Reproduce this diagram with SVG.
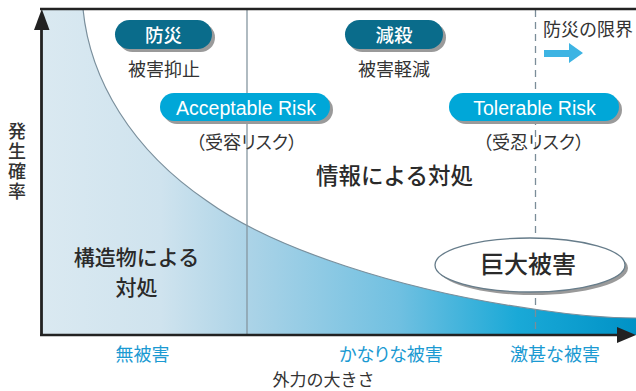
<svg xmlns="http://www.w3.org/2000/svg" width="636" height="391" viewBox="0 0 636 391">
<style>
.jp{font-family:"Noto Sans CJK JP","Noto Sans",sans-serif;}
.dark{fill:#333333;}
.blue{fill:#1b9ad2;}
.pilltxt{fill:#ffffff;font-weight:500;}
.palt{font-feature-settings:"palt";}
.en{font-family:"Liberation Sans",Arial,sans-serif;fill:#ffffff;font-size:19.5px;}
.shadow{fill:#9a9a9a;}
.darkpill{fill:#0a6c8b;}
.lightpill{fill:#00a7d8;}
</style>
<defs>
<linearGradient id="g" x1="42" y1="0" x2="636" y2="0" gradientUnits="userSpaceOnUse">
<stop offset="0" stop-color="#dae9f1"/>
<stop offset="0.2" stop-color="#cfe3ee"/>
<stop offset="0.35" stop-color="#abd3e7"/>
<stop offset="0.6" stop-color="#70c0e1"/>
<stop offset="0.8" stop-color="#1aa9d7"/>
<stop offset="1" stop-color="#0092c6"/>
</linearGradient>
</defs>
<g id="area">
<path d="M42,9 L83,9 C90,80 132,150 207,201 C272,248 400,291 540,310 C580,316 610,318 636,318 L636,335 L42,335 Z" fill="url(#g)"/>
<path d="M83,9 C90,80 132,150 207,201 C272,248 400,291 540,310 C580,316 610,318 636,318" fill="none" stroke="#7a8f9c" stroke-width="1.2"/>
</g>
<g id="connectors">
<line x1="247" y1="10" x2="247" y2="334" stroke="#8596a0" stroke-width="1.3"/>
<line x1="535.5" y1="10" x2="535.5" y2="334" stroke="#7b8d99" stroke-width="1.3" stroke-dasharray="7 5"/>
<polygon points="544,50 569,50 569,43 583,53 569,63 569,57 544,57" fill="#3db4e3"/>
</g>
<g id="bousai">
<rect x="118" y="23" width="97" height="29" rx="14.5" class="shadow"/>
<rect x="115" y="20" width="97" height="29" rx="14.5" class="darkpill"/>
<text x="163.5" y="41.5" font-size="18.5" text-anchor="middle" class="jp pilltxt">防災</text>
<text x="164" y="75.5" font-size="18" text-anchor="middle" class="jp dark">被害抑止</text>
</g>
<g id="gensai">
<rect x="348" y="23" width="98" height="29" rx="14.5" class="shadow"/>
<rect x="345" y="20" width="98" height="29" rx="14.5" class="darkpill"/>
<text x="394" y="41.5" font-size="18.5" text-anchor="middle" class="jp pilltxt">減殺</text>
<text x="394" y="75.5" font-size="18" text-anchor="middle" class="jp dark">被害軽減</text>
</g>
<g id="acceptable">
<rect x="163" y="96" width="170" height="28" rx="14" class="shadow"/>
<rect x="160" y="93" width="170" height="28" rx="14" class="lightpill"/>
<text x="246" y="114.5" text-anchor="middle" class="en">Acceptable Risk</text>
<text x="246.5" y="148.5" font-size="18" text-anchor="middle" class="jp dark palt">（受容リスク）</text>
</g>
<g id="tolerable">
<rect x="452" y="96" width="170" height="28" rx="14" class="shadow"/>
<rect x="449" y="93" width="170" height="28" rx="14" class="lightpill"/>
<text x="534.5" y="114.5" text-anchor="middle" class="en">Tolerable Risk</text>
<text x="533.5" y="148.5" font-size="18" text-anchor="middle" class="jp dark palt">（受忍リスク）</text>
</g>
<g id="limit">
<text x="543" y="36" font-size="18" class="jp dark">防災の限界</text>
</g>
<g id="info">
<text x="394.5" y="183.5" font-size="22.5" font-weight="500" text-anchor="middle" class="jp" fill="#2a2a2a">情報による対処</text>
</g>
<g id="structure">
<text font-size="21" font-weight="500" text-anchor="middle" class="jp" fill="#2a2a2a"><tspan x="136.5" y="264.5">構造物による</tspan><tspan x="136.5" y="295">対処</tspan></text>
</g>
<g id="huge">
<ellipse cx="533" cy="268" rx="95" ry="27" fill="#9a9a9a"/>
<ellipse cx="530" cy="265" rx="95" ry="27" fill="#ffffff" stroke="#667c8a" stroke-width="1.3"/>
<text x="528" y="273" font-size="24" font-weight="500" text-anchor="middle" class="jp" fill="#2a2a2a">巨大被害</text>
</g>
<g id="axes">
<line x1="40" y1="9" x2="636" y2="9" stroke="#222222" stroke-width="2.5"/>
<line x1="41.5" y1="20" x2="41.5" y2="336" stroke="#222222" stroke-width="2.8"/>
<polygon points="34,30 49.5,30 41.8,9" fill="#222222"/>
<line x1="40" y1="335" x2="620" y2="335" stroke="#222222" stroke-width="2.5"/>
<polygon points="617,327 636,335 617,343" fill="#222222"/>
</g>
<g id="ylabel">
<text x="17" y="122" font-size="18" font-weight="500" letter-spacing="2" style="writing-mode:vertical-rl" class="jp dark">発生確率</text>
</g>
<g id="xlabels">
<text x="142.5" y="360.5" font-size="18" text-anchor="middle" class="jp blue">無被害</text>
<text x="391" y="360.5" font-size="18" text-anchor="middle" class="jp blue palt">かなりな被害</text>
<text x="555" y="360.5" font-size="18" text-anchor="middle" class="jp blue">激甚な被害</text>
<text x="323.5" y="386" font-size="17" text-anchor="middle" class="jp dark">外力の大きさ</text>
</g>
</svg>
